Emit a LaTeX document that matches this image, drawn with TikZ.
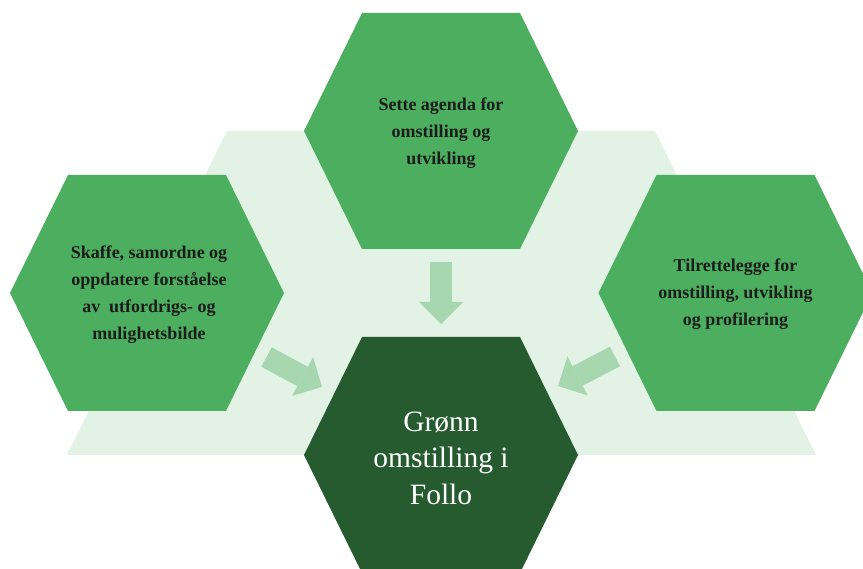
\documentclass[tikz,border=0pt]{standalone}
\usepackage{fontspec}
\setmainfont{Liberation Serif}
\usetikzlibrary{arrows.meta}
\definecolor{hexgreen}{HTML}{4CAE5F}
\definecolor{darkgreen}{HTML}{265A2F}
\definecolor{bgpale}{HTML}{E2F2E5}
\definecolor{arrowc}{HTML}{A7D7AE}
\definecolor{txtdark}{HTML}{1C1C1C}
\tikzset{
  hexfill/.style={fill=hexgreen},
  hexdark/.style={fill=darkgreen},
  sidetext/.style={align=center, text=txtdark, font=\fontsize{18}{27}\selectfont\bfseries, inner sep=0pt},
  maintext/.style={align=center, text=white, font=\fontsize{29.5}{36.5}\selectfont, inner sep=0pt},
  blockarrow/.style={draw=arrowc, line width=22pt, line cap=butt,
    -{Triangle[width=44pt,length=22pt,line width=0pt]}}
}
\newcommand\myhex[3]{%
  \fill[#3,shift={(#1,#2)}] (-137,0) -- (-79,-118) -- (79,-118) -- (137,0) -- (79,118) -- (-79,118) -- cycle;}
\begin{document}
\begin{tikzpicture}[x=1pt,y=-1pt]
\useasboundingbox (0,0) rectangle (863,569);
\fill[white] (0,0) rectangle (863,569);
% pale background
\fill[bgpale] (227,131) -- (655,131) -- (816,455) -- (67,455) -- cycle;
% hexagons
\myhex{441}{131}{hexfill}
\myhex{147}{293}{hexfill}
\myhex{735.5}{293}{hexfill}
\myhex{441}{455}{hexdark}
% texts
\node[sidetext] (top) at (441,133) {Sette agenda for\\omstilling og\\utvikling};
\node[sidetext] (left) at (149,295) {Skaffe, samordne og\\oppdatere forståelse\\av\ \ utfordrigs- og\\mulighetsbilde};
\node[sidetext] (right) at (735.5,294) {Tilrettelegge for\\omstilling, utvikling\\og profilering};
\node[maintext] (main) at (441,458) {Grønn\\omstilling i\\Follo};
% arrows
\coordinate (a1s) at (441,262);
\coordinate (a1e) at (441,324);
\coordinate (a2s) at (266.5,357);
\coordinate (a2e) at (322,387);
\coordinate (a3s) at (615,356.5);
\coordinate (a3e) at (558,386);
\draw[blockarrow] (a1s) -- (a1e);
\draw[blockarrow] (a2s) -- (a2e);
\draw[blockarrow] (a3s) -- (a3e);
\end{tikzpicture}
\end{document}
